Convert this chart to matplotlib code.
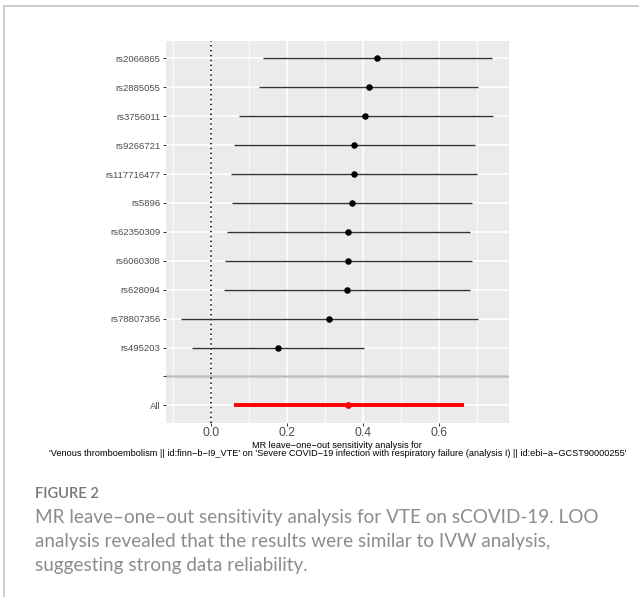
import matplotlib
matplotlib.use("Agg")
import matplotlib.pyplot as plt
from matplotlib.lines import Line2D

# ---- data (top to bottom as shown) ----
snps = ["rs2066865", "rs2885055", "rs3756011", "rs9266721", "rs117716477", "rs5896",
        "rs62350309", "rs6060308", "rs628094", "rs78807356", "rs495203"]
b = [0.438, 0.416, 0.407, 0.377, 0.377, 0.373, 0.362, 0.361, 0.358, 0.312, 0.176]
lo = [0.138, 0.128, 0.074, 0.060, 0.053, 0.055, 0.043, 0.037, 0.036, -0.077, -0.049]
hi = [0.739, 0.703, 0.743, 0.696, 0.701, 0.688, 0.682, 0.687, 0.681, 0.703, 0.403]
all_b, all_lo, all_hi = 0.362, 0.061, 0.666
x_ticks = [0.0, 0.2, 0.4, 0.6]
x_tick_labels = ["0.0", "0.2", "0.4", "0.6"]
x_minor = [-0.1, 0.1, 0.3, 0.5, 0.7]

xlabel = ("MR leave\u2212one\u2212out sensitivity analysis for\n"
          "'Venous thromboembolism || id:finn\u2212b\u2212I9_VTE' on 'Severe COVID\u221219 infection "
          "with respiratory failure (analysis I) || id:ebi\u2212a\u2212GCST90000255'")
fig_label = "FIGURE 2"
caption = ["MR leave\u2013one\u2013out sensitivity analysis for VTE on sCOVID-19. LOO",
           "analysis revealed that the results were similar to IVW analysis,",
           "suggesting strong data reliability."]

# ---- figure ----
W, H = 639, 597
fig = plt.figure(figsize=(W / 100, H / 100), dpi=100)
fig.patch.set_facecolor("white")

# border lines (left and top)
fig.add_artist(Line2D([4 / W, 4 / W], [0, 1 - 6 / H], color="#c8c8c8", lw=1.3, transform=fig.transFigure))
fig.add_artist(Line2D([4 / W, 638 / W], [1 - 6 / H, 1 - 6 / H], color="#c8c8c8", lw=1.3, transform=fig.transFigure))

left, right, top, bottom = 166, 508.7, 41, 422.7
ax = fig.add_axes([left / W, 1 - bottom / H, (right - left) / W, (bottom - top) / H])
ax.set_facecolor("#EBEBEB")
for s in ax.spines.values():
    s.set_visible(False)

labels_bt = ["All", ""] + snps[::-1]
pos = list(range(1, len(labels_bt) + 1))
ax.set_xlim(-0.1176, 0.784)
ax.set_ylim(0.4, 13.6)

# grid
for xm in x_minor:
    ax.axvline(xm, color="white", lw=0.6, zorder=0)
for xt in x_ticks:
    ax.axvline(xt, color="white", lw=1.2, zorder=0)
for p in pos:
    ax.axhline(p, color="white", lw=1.2, zorder=0)

# separator
ax.axhline(2, color="#BEBEBE", lw=1.8, zorder=1)
# null line
ax.axvline(0, color="black", lw=1.1, linestyle=(0, (1, 2.2)), zorder=2)

# SNP rows
snp_pos = pos[2:][::-1]
for yp, l, h in zip(snp_pos, lo, hi):
    ax.plot([l, h], [yp, yp], color="#333333", lw=1.0, zorder=3, solid_capstyle="butt")
ax.scatter(b, snp_pos, s=22, color="black", zorder=4, linewidths=0)

# All row
ax.plot([all_lo, all_hi], [1, 1], color="#FF0000", lw=2.8, zorder=3, solid_capstyle="butt")
ax.scatter([all_b], [1], s=24, color="#FF0000", zorder=4, linewidths=0)

ax.set_yticks(pos)
ax.set_yticklabels(labels_bt, fontsize=6.8, color="#4D4D4D", family="Liberation Sans")
ax.set_xticks(x_ticks)
ax.set_xticklabels(x_tick_labels, fontsize=8.8, color="#4D4D4D", family="Liberation Sans")
ax.tick_params(axis="both", length=2.5, width=0.7, color="#333333", pad=1.6)
ax.tick_params(axis="x", pad=0.6)

cx = (left + right) / 2 / W
fig.text(cx, 1 - 440.5 / H, xlabel, ha="center", va="top", fontsize=6.6, color="black",
         family="Liberation Sans", linespacing=1.0)

fig.text(35 / W, 1 - 494 / H, fig_label, ha="left", va="center", fontsize=10.5, color="#777777",
         family="Lato", weight="semibold")
for i, line in enumerate(caption):
    fig.text(35 / W, 1 - (518 + i * 23.8) / H, line, ha="left", va="center", fontsize=13.6,
             color="#8c8c8c", family="Lato", weight="normal")

fig.savefig("out.png", dpi=100)
